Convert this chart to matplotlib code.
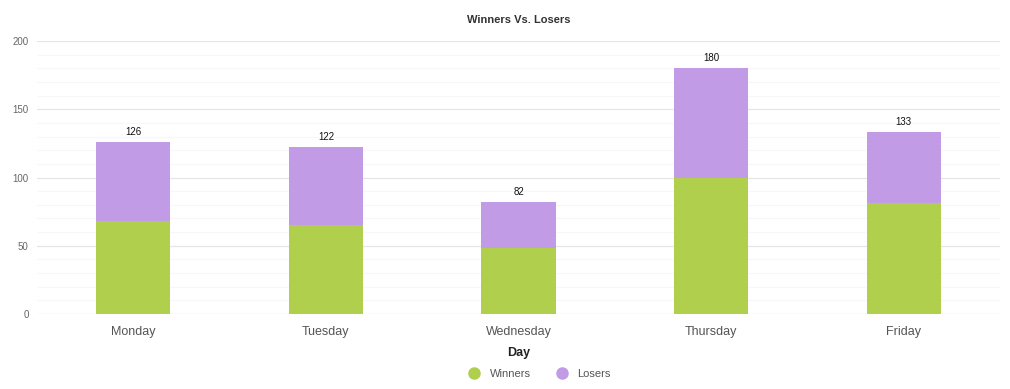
import numpy as np
import matplotlib.pyplot as plt
from matplotlib.lines import Line2D

days = ["Monday", "Tuesday", "Wednesday", "Thursday", "Friday"]
winners = [68, 65, 48, 100, 81]
losers = [58, 57, 34, 80, 52]
totals = [126, 122, 82, 180, 133]

GREEN = "#b0cf4c"
PURPLE = "#c29be6"

plt.rcParams["font.family"] = ["Liberation Sans", "DejaVu Sans"]

fig = plt.figure(figsize=(10.1, 3.89), dpi=100)
ax = fig.add_axes([37 / 1010, 75 / 389, 963 / 1010, 273 / 389])

x = np.arange(len(days))
ax.bar(x, winners, width=0.385, color=GREEN, zorder=2)
ax.bar(x, losers, width=0.385, bottom=winners, color=PURPLE, zorder=2)

for xi, t in zip(x, totals):
    ax.text(xi, t + 4, str(t), ha="center", va="bottom", fontsize=7, color="#111111")

ax.set_xlim(-0.5, len(days) - 0.5)
ax.set_ylim(0, 200)
ax.set_yticks([0, 50, 100, 150, 200])
ax.set_yticks(np.arange(0, 201, 10), minor=True)
ax.grid(axis="y", which="major", color="#e6e6e6", linewidth=0.9, zorder=0)
ax.grid(axis="y", which="minor", color="#f7f7f7", linewidth=0.8, zorder=0)
ax.set_xticks(x)
ax.set_xticklabels(days)
ax.tick_params(axis="x", length=0, labelsize=9, labelcolor="#555555", pad=9)
ax.tick_params(axis="y", which="both", length=0, labelsize=7, labelcolor="#666666", pad=6)
for s in ax.spines.values():
    s.set_visible(False)

ax.set_xlabel("Day", fontsize=9, fontweight="bold", color="#222222", labelpad=6)
ax.set_title("Winners Vs. Losers", fontsize=8, fontweight="bold", color="#333333", pad=13)

handles = [
    Line2D([], [], marker="o", linestyle="", markersize=8, color=GREEN),
    Line2D([], [], marker="o", linestyle="", markersize=8, color=PURPLE),
]
fig.legend(handles, ["Winners", "Losers"], loc="center", bbox_to_anchor=(537 / 1010, 1 - 374 / 389),
           ncol=2, frameon=False, fontsize=8, labelcolor="#555555", handletextpad=0.4,
           columnspacing=1.8)

fig.savefig("out.png", dpi=100)
